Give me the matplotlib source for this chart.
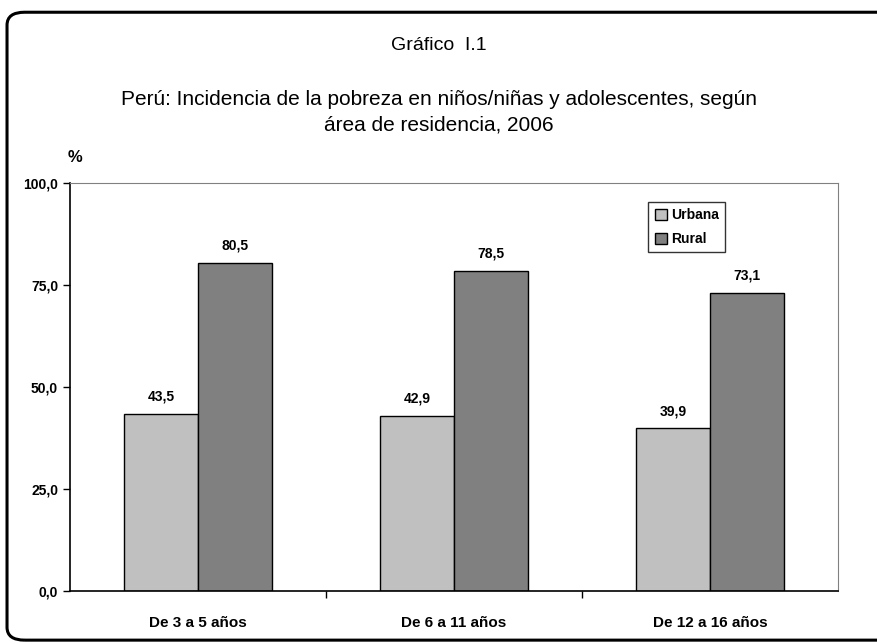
import numpy as np
import matplotlib.pyplot as plt
from matplotlib.patches import FancyBboxPatch

plt.rcParams['font.family'] = ['Liberation Sans Narrow', 'Liberation Sans', 'DejaVu Sans']

categories = ['De 3 a 5 años', 'De 6 a 11 años', 'De 12 a 16 años']
urbana = [43.5, 42.9, 39.9]
rural = [80.5, 78.5, 73.1]
yticks = [0, 25, 50, 75, 100]

fig = plt.figure(figsize=(8.78, 6.44), dpi=100)

# rounded outer frame
frame = FancyBboxPatch((0.008, 0.006), 1.2, 0.975, boxstyle='round,pad=0,rounding_size=0.02',
                       transform=fig.transFigure, fill=False, edgecolor='black', linewidth=2.2,
                       clip_on=False)
fig.patches.append(frame)

ax = fig.add_axes([0.0797, 0.0823, 0.8747, 0.6335])

x = np.arange(len(categories))
w = 0.29
b1 = ax.bar(x - w / 2, urbana, w, color='#c0c0c0', edgecolor='black', linewidth=1, label='Urbana')
b2 = ax.bar(x + w / 2, rural, w, color='#808080', edgecolor='black', linewidth=1, label='Rural')

for bars, vals in ((b1, urbana), (b2, rural)):
    for r, v in zip(bars, vals):
        ax.text(r.get_x() + r.get_width() / 2, v + 2.5, f'{v:.1f}'.replace('.', ','),
                ha='center', va='bottom', fontsize=10, fontweight='bold')

ax.set_xlim(-0.5, 2.5)
ax.set_ylim(0, 100)
ax.set_yticks(yticks)
ax.set_yticklabels([f'{t:.1f}'.replace('.', ',') for t in yticks], fontsize=10, fontweight='bold')
ax.set_xticks(x)
ax.set_xticklabels(categories, fontsize=11, fontweight='bold')
ax.tick_params(axis='x', length=0, pad=18)
ax.tick_params(axis='y', length=5, direction='out', width=1)
ax.set_xticks([0.5, 1.5], minor=True)
ax.tick_params(axis='x', which='minor', length=5, direction='out', width=1)

for s in ('top', 'right'):
    ax.spines[s].set_color('#808080')
for s in ('left', 'bottom'):
    ax.spines[s].set_color('black')
    ax.spines[s].set_linewidth(1.2)

leg = ax.legend(loc='upper left', bbox_to_anchor=(0.744, 0.97), fancybox=False,
                edgecolor='black', prop={'size': 10, 'weight': 'bold'},
                handlelength=0.9, handleheight=0.9, handletextpad=0.3,
                borderpad=0.45, labelspacing=0.7)
leg.get_frame().set_linewidth(1)

fig.text(0.5, 0.93, 'Gráfico  I.1', ha='center', va='center', fontsize=14)
fig.text(0.5, 0.826, 'Perú: Incidencia de la pobreza en niños/niñas y adolescentes, según\n'
         'área de residencia, 2006', ha='center', va='center', fontsize=15, linespacing=1.4)
fig.text(0.085, 0.755, '%', ha='center', va='center', fontsize=12, fontweight='bold')

fig.savefig('out.png', dpi=100)
